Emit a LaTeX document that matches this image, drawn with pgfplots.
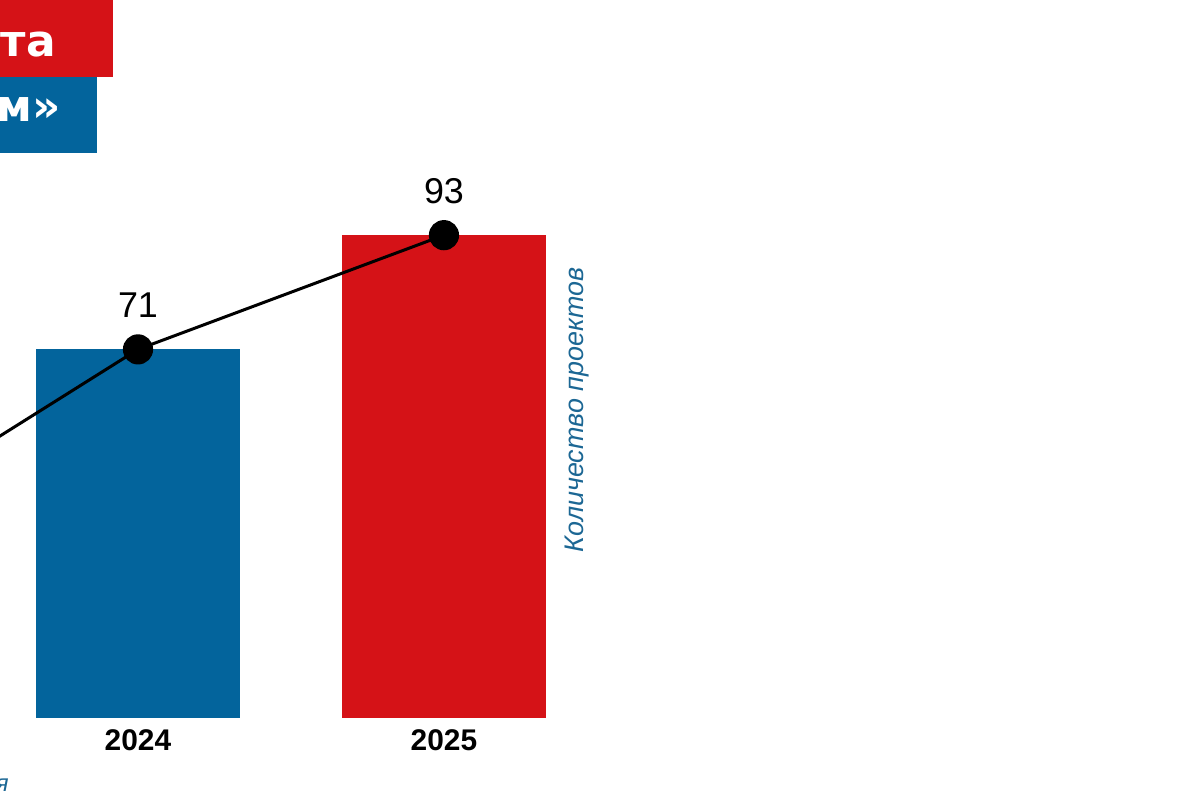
\documentclass[border=0pt]{standalone}
\usepackage{pgfplots}
\pgfplotsset{compat=1.18}
\usepackage{fontspec}
\setmainfont{Liberation Sans}
\newfontfamily\titlefont{DejaVu Sans}
\definecolor{pblue}{HTML}{03649C}
\definecolor{pred}{HTML}{D51217}
\definecolor{lblue}{HTML}{1C6794}
\begin{document}
\begin{tikzpicture}
\useasboundingbox (0,0) rectangle (600bp,400bp);
\clip (0,0) rectangle (600bp,400bp);
% title boxes (cropped at the left edge)
\fill[pred] (-200bp,361.5bp) rectangle (56.5bp,410bp);
\fill[pblue] (-200bp,323.5bp) rectangle (48.5bp,361.5bp);
\node[anchor=base east, inner sep=0pt, text=white, font=\titlefont\bfseries\fontsize{22}{22}\selectfont] at (28bp,371.5bp) {Количество проекта};
\node[anchor=base east, inner sep=0pt, text=white, font=\titlefont\bfseries\fontsize{22}{22}\selectfont] at (30.5bp,339bp) {«Успешным проектом»};
\begin{axis}[
  at={(0,41bp)}, anchor=south west,
  width=600bp, height=359bp, scale only axis,
  xmin=0.549, xmax=4.471, ymin=0, ymax=138.3,
  axis line style={draw=none},
  major tick length=0pt,
  ytick=\empty,
  xtick={1,2}, xticklabels={2024,2025},
  xticklabel style={font=\bfseries\fontsize{15}{15}\selectfont, text=black, yshift=-2.5bp},
  /pgf/number format/assume math mode=true,
]
\addplot[ybar, bar width=102bp, bar shift=0pt, fill=pred, draw=none] coordinates {(0,34)};
\addplot[ybar, bar width=102bp, bar shift=0pt, fill=pblue, draw=none] coordinates {(1,71)};
\addplot[ybar, bar width=102bp, bar shift=0pt, fill=pred, draw=none] coordinates {(2,93)};
\addplot[black, line width=1.5bp, mark=*, mark size=6.8bp,
  nodes near coords,
  nodes near coords style={anchor=base, yshift=16bp, font=\fontsize{18}{18}\selectfont, text=black}]
  coordinates {(0,34) (1,71) (2,93)};
\end{axis}
\node[rotate=90, text=lblue, font=\itshape\fontsize{13.5}{13.5}\selectfont] at (288.5bp,195bp) {Количество проектов};
\node[anchor=east, inner sep=0pt, text=lblue, font=\itshape\fontsize{12}{12}\selectfont] at (4.5bp,7.5bp) {Источник: данные управления};
\end{tikzpicture}
\end{document}
